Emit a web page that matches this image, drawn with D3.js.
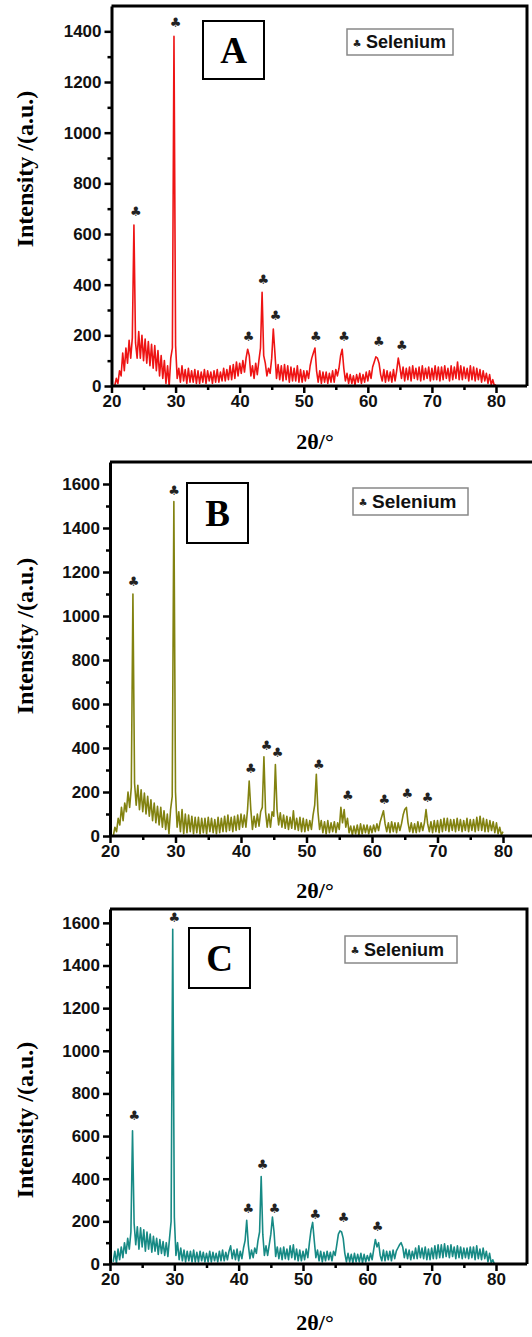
<!DOCTYPE html>
<html>
<head>
<meta charset="utf-8">
<script src="https://cdn.jsdelivr.net/npm/d3@7"></script>
<style>
  html, body { margin: 0; padding: 0; background: #fff; }
  svg { display: block; }
  .tick text { font-family: "Liberation Sans", Arial, sans-serif; font-weight: bold; font-size: 17px; fill: #111; }
</style>
</head>
<body>
<svg id="chart"></svg>
<script>
// 2θ sampling grid of the scans (degrees), one reading every 0.25°
const twoTheta = d3.range(239).map(i => 20.5 + i * 0.25);

// intensities, one row per degree (n.5, n.75, n+1, n+1.25)
const intensityA = [
  0, 30, 10, 60,   40, 130, 60, 150,   90, 180, 110, 190,   635, 170, 110, 215,
  110, 200, 100, 185,   90, 175, 80, 165,   70, 160, 60, 140,   40, 120, 30, 100,
  10, 80, 0, 110,   150, 1380, 160, 30,   70, 15, 80, 20,   65, 10, 70, 15,
  60, 15, 65, 10,   60, 10, 55, 15,   65, 10, 60, 20,   55, 10, 60, 15,
  65, 15, 55, 20,   70, 20, 65, 25,   80, 25, 85, 30,   95, 40, 90, 50,
  100, 55, 110, 145,   120, 40, 80, 30,   90, 45, 100, 150,   370, 120, 90, 40,
  70, 50, 110, 225,   130, 30, 85, 25,   80, 20, 85, 25,   80, 15, 75, 20,
  70, 20, 80, 15,   65, 15, 60, 20,   60, 30, 80, 110,   130, 150, 60, 15,
  60, 10, 55, 15,   55, 10, 50, 15,   60, 15, 65, 40,   70, 120, 145, 70,
  20, 50, 10, 45,   10, 40, 5, 45,   15, 50, 10, 45,   15, 55, 20, 60,
  30, 75, 95, 115,   110, 90, 45, 20,   65, 15, 60, 20,   55, 15, 65, 20,
  60, 110, 75, 30,   75, 20, 70, 25,   75, 20, 80, 30,   70, 25, 75, 20,
  80, 25, 70, 30,   75, 20, 70, 25,   80, 25, 75, 20,   75, 25, 80, 30,
  70, 20, 80, 25,   75, 30, 95, 25,   80, 25, 75, 30,   70, 20, 80, 25,
  75, 20, 70, 25,   65, 15, 60, 20,   50, 10, 45, 5,   25, 0, 5
];

const intensityB = [
  0, 40, 20, 80,   50, 130, 70, 150,   110, 200, 130, 220,   1100, 240, 140, 230,
  120, 210, 110, 195,   100, 180, 90, 165,   70, 150, 60, 135,   50, 130, 40, 115,
  30, 100, 10, 120,   180, 1520, 200, 40,   110, 20, 120, 10,   100, 15, 95, 20,
  90, 10, 85, 15,   85, 10, 80, 15,   80, 10, 85, 20,   80, 15, 75, 10,
  85, 15, 80, 20,   90, 20, 95, 25,   85, 20, 90, 25,   95, 30, 100, 40,
  95, 40, 120, 250,   120, 30, 90, 40,   100, 45, 110, 130,   360, 110, 40, 100,
  40, 110, 90, 325,   120, 50, 105, 40,   95, 35, 90, 30,   85, 35, 115, 30,
  80, 25, 85, 20,   80, 20, 75, 25,   70, 30, 95, 140,   280, 110, 30, 70,
  15, 65, 10, 70,   15, 60, 20, 65,   15, 60, 30, 130,   60, 120, 40, 80,
  15, 45, 5, 45,   10, 50, 5, 55,   10, 50, 15, 50,   10, 45, 15, 50,
  20, 55, 25, 65,   90, 115, 55, 20,   60, 15, 65, 20,   60, 15, 60, 25,
  55, 95, 120, 130,   60, 20, 60, 15,   55, 15, 65, 20,   60, 25, 60, 120,
  55, 20, 65, 15,   70, 20, 70, 15,   75, 20, 80, 25,   80, 20, 75, 25,
  75, 20, 80, 25,   75, 20, 70, 25,   80, 20, 75, 25,   75, 20, 85, 25,
  90, 25, 80, 20,   75, 20, 70, 25,   65, 15, 60, 10,   40, 5, 20
];

const intensityC = [
  10, 60, 5, 70,   20, 80, 30, 100,   50, 120, 70, 150,   625, 190, 90, 175,
  70, 170, 80, 160,   60, 150, 70, 140,   55, 130, 60, 120,   45, 115, 50, 105,
  40, 100, 35, 120,   200, 1570, 220, 40,   100, 20, 75, 15,   65, 10, 60, 15,
  60, 10, 65, 10,   55, 10, 60, 15,   55, 10, 50, 10,   60, 10, 55, 15,
  50, 10, 60, 15,   65, 15, 55, 20,   60, 85, 25, 65,   20, 70, 15, 60,
  25, 75, 110, 205,   90, 25, 65, 30,   75, 50, 110, 150,   410, 140, 40, 85,
  40, 90, 140, 220,   150, 35, 80, 25,   75, 20, 80, 25,   70, 20, 85, 30,
  90, 20, 70, 15,   65, 15, 60, 20,   70, 30, 100, 160,   195, 110, 30, 65,
  15, 60, 10, 55,   15, 60, 20, 55,   15, 60, 40, 90,   140, 155, 150, 120,
  50, 10, 50, 10,   45, 5, 50, 10,   45, 10, 50, 5,   45, 10, 40, 15,
  50, 20, 70, 115,   80, 100, 40, 15,   65, 15, 60, 20,   60, 15, 65, 25,
  60, 75, 90, 100,   80, 30, 70, 25,   65, 20, 60, 25,   75, 25, 85, 30,
  75, 25, 80, 20,   70, 20, 75, 25,   85, 25, 90, 30,   90, 30, 95, 35,
  85, 30, 90, 35,   80, 25, 85, 30,   80, 25, 75, 30,   75, 25, 80, 30,
  80, 20, 85, 25,   70, 20, 75, 25,   60, 10, 50, 5,   20, 0, 0
];

// selenium reflections marked with ♣ : [2θ, intensity]
const markersA = [[23.8, 690], [30.0, 1435], [41.4, 195], [43.7, 420], [45.6, 277], [51.9, 196], [56.3, 195], [61.7, 175], [65.3, 160]];
const markersB = [[23.6, 1155], [29.8, 1570], [41.5, 308], [43.9, 413], [45.6, 380], [51.9, 323], [56.3, 182], [61.9, 167], [65.4, 192], [68.5, 173]];
const markersC = [[23.8, 695], [30.0, 1625], [41.5, 259], [43.7, 468], [45.6, 259], [51.9, 231], [56.3, 218], [61.6, 176]];

const xTicks = [20, 30, 40, 50, 60, 70, 80];
const xMinor = [25, 35, 45, 55, 65, 75];
const yTicksA = [0, 200, 400, 600, 800, 1000, 1200, 1400];
const yTicksBC = [0, 200, 400, 600, 800, 1000, 1200, 1400, 1600];

const legendText = "Selenium";
const xTitle = "2θ/°";
const yTitle = "Intensity /(a.u.)";

const W = 532, H = 1337;
const svg = d3.select("#chart").attr("width", W).attr("height", H);
svg.append("rect").attr("width", W).attr("height", H).attr("fill", "#fff");

const panels = [
  { name: "A", data: intensityA, marks: markersA, yTicks: yTicksA, color: "#ee1414",
    xr: [111.5, 496], yr: [386, 6], ymax: 1500, frameRight: 527,
    label: [203, 21, 61, 58], legend: [347, 29, 106, 26], legendSize: 18,
    yTitleY: 169, xTitleY: 449 },
  { name: "B", data: intensityB, marks: markersB, yTicks: yTicksBC, color: "#828210",
    xr: [110, 503], yr: [836, 462], ymax: 1700, frameRight: 540,
    label: [187, 483, 61, 60], legend: [353, 488, 115, 27], legendSize: 19,
    yTitleY: 636, xTitleY: 898 },
  { name: "C", data: intensityC, marks: markersC, yTicks: yTicksBC, color: "#178a85",
    xr: [110, 496], yr: [1264, 909], ymax: 1665, frameRight: 527,
    label: [189, 928, 61, 60], legend: [345, 936, 112, 27], legendSize: 18,
    yTitleY: 1120, xTitleY: 1330 }
];

panels.forEach(p => {
  const x = d3.scaleLinear().domain([20, 80]).range(p.xr);
  const y = d3.scaleLinear().domain([0, p.ymax]).range(p.yr);
  const g = svg.append("g");

  // pattern
  const line = d3.line().x((d, i) => x(twoTheta[i])).y(d => y(d));
  g.append("path")
    .datum(p.data)
    .attr("d", line)
    .attr("fill", "none")
    .attr("stroke", p.color)
    .attr("stroke-width", 1.6)
    .attr("stroke-linejoin", "round");

  // frame (top and right)
  g.append("path")
    .attr("d", `M${x(20)},${y(p.ymax)}H${p.frameRight}V${y(0)}`)
    .attr("fill", "none").attr("stroke", "#000").attr("stroke-width", 3);

  // minor ticks
  const yMinor = d3.range(100, p.ymax, 200);
  g.append("g").attr("transform", `translate(0,${y(0)})`)
    .call(d3.axisBottom(x).tickValues(xMinor).tickSize(4).tickFormat(""))
    .call(a => a.select(".domain").remove())
    .call(a => a.selectAll("line").attr("stroke-width", 2.5));
  g.append("g").attr("transform", `translate(${x(20)},0)`)
    .call(d3.axisLeft(y).tickValues(yMinor).tickSize(4).tickFormat(""))
    .call(a => a.select(".domain").remove())
    .call(a => a.selectAll("line").attr("stroke-width", 2.5));

  // major axes
  const xAxis = g.append("g").attr("transform", `translate(0,${y(0)})`)
    .call(d3.axisBottom(x).tickValues(xTicks).tickSize(7).tickPadding(2).tickSizeOuter(0).tickFormat(d3.format("d")));
  xAxis.select(".domain").attr("d", `M${x(20)},0H${p.frameRight}`).attr("stroke-width", 3);
  xAxis.selectAll("line").attr("stroke-width", 2.5);

  const yAxis = g.append("g").attr("transform", `translate(${x(20)},0)`)
    .call(d3.axisLeft(y).tickValues(p.yTicks).tickSize(7).tickPadding(3).tickSizeOuter(0).tickFormat(d3.format("d")));
  yAxis.select(".domain").attr("stroke-width", 3);
  yAxis.selectAll("line").attr("stroke-width", 2.5);

  // ♣ markers
  g.selectAll("text.mark")
    .data(p.marks)
    .join("text")
    .attr("class", "mark")
    .attr("x", d => x(d[0]))
    .attr("y", d => y(d[1]))
    .attr("text-anchor", "middle")
    .attr("dominant-baseline", "central")
    .attr("font-family", "DejaVu Sans, sans-serif")
    .attr("font-size", 13)
    .attr("fill", "#222")
    .text("♣");

  // panel letter box
  const [lx, ly, lw, lh] = p.label;
  g.append("rect").attr("x", lx).attr("y", ly).attr("width", lw).attr("height", lh)
    .attr("fill", "#fff").attr("stroke", "#000").attr("stroke-width", 2);
  g.append("text")
    .attr("x", lx + lw / 2).attr("y", ly + lh / 2 + 13)
    .attr("text-anchor", "middle")
    .attr("font-family", "Liberation Serif, Times New Roman, serif")
    .attr("font-weight", "bold")
    .attr("font-size", 37)
    .text(p.name);

  // legend
  const [gx, gy, gw, gh] = p.legend;
  g.append("rect").attr("x", gx).attr("y", gy).attr("width", gw).attr("height", gh)
    .attr("fill", "#fff").attr("stroke", "#888").attr("stroke-width", 1.5);
  g.append("text")
    .attr("x", gx + 10).attr("y", gy + gh / 2 + 1)
    .attr("text-anchor", "middle").attr("dominant-baseline", "central")
    .attr("font-family", "DejaVu Sans, sans-serif").attr("font-size", 10).attr("fill", "#222")
    .text("♣");
  g.append("text")
    .attr("x", gx + 19).attr("y", gy + gh / 2 + p.legendSize * 0.36)
    .attr("font-family", "Liberation Sans, Arial, sans-serif")
    .attr("font-weight", "bold")
    .attr("font-size", p.legendSize)
    .attr("fill", "#111")
    .text(legendText);

  // axis titles
  g.append("text")
    .attr("transform", `translate(33,${p.yTitleY}) rotate(-90)`)
    .attr("text-anchor", "middle")
    .attr("font-family", "Liberation Serif, Times New Roman, serif")
    .attr("font-weight", "bold").attr("font-size", 24)
    .text(yTitle);
  g.append("text")
    .attr("x", 315).attr("y", p.xTitleY)
    .attr("text-anchor", "middle")
    .attr("font-family", "Liberation Serif, Times New Roman, serif")
    .attr("font-weight", "bold").attr("font-size", 22)
    .text(xTitle);
});
</script>
</body>
</html>
